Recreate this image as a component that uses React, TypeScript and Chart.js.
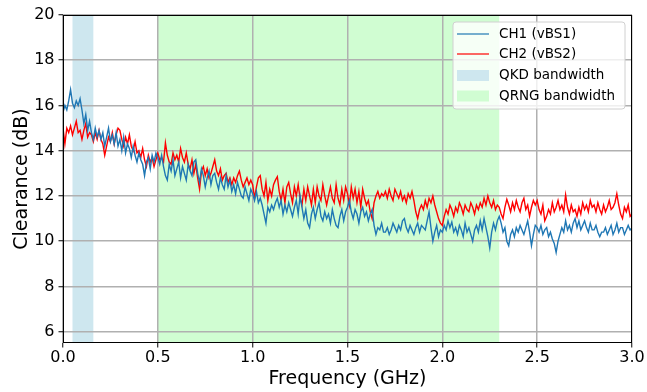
import React, { useEffect, useRef } from "react";
import { Chart, registerables } from "chart.js";

Chart.register(...registerables);

// Frequency sampling grid (GHz): 0.00 .. 3.00 in 0.01 steps
const freqGHz: number[] = Array.from({ length: 301 }, (_, i) => i / 100);

// CH1 (vBS1) clearance in dB, one row per 0.1 GHz
const ch1: number[] = [
  15.7, 16.0, 15.8, 16.2, 16.7, 16.1, 15.9, 16.2, 16.0, 16.3,
  15.8, 15.2, 15.6, 14.9, 15.3, 14.8, 14.5, 15.0, 14.6, 14.9,
  14.5, 14.8, 14.2, 14.6, 15.0, 14.4, 14.7, 14.3, 14.8, 14.2,
  14.5, 14.0, 14.6, 13.9, 14.3, 14.1, 13.7, 14.2, 13.8, 13.5,
  13.9, 13.6, 13.4, 12.9, 13.5, 13.7, 13.2, 13.8, 13.5, 13.9,
  13.7, 13.4, 13.8, 13.3, 12.9, 12.7, 13.4, 13.1, 13.6, 12.9,
  13.2, 13.5, 12.8, 13.3, 13.0, 12.7, 13.4, 13.1, 12.9, 13.5,
  13.6, 13.0, 12.6, 13.2, 12.9, 12.4, 12.8, 13.1, 12.5, 12.9,
  13.0, 12.6, 12.3, 12.8, 12.5, 12.3, 12.9, 12.4, 12.7, 12.2,
  12.5, 12.1, 12.6, 12.3, 12.0, 11.9, 12.4, 12.1, 11.8, 12.3,
  12.1, 11.8, 12.2, 11.7, 11.9, 11.6, 11.2, 10.8, 11.5, 11.3,
  11.6, 11.4, 11.7, 11.9, 11.5, 11.8, 11.2, 11.6, 11.3, 11.7,
  11.4, 11.1, 11.5, 11.8, 11.2, 12.0, 11.5, 11.0, 11.4, 10.8,
  10.6, 11.2, 11.5, 11.0, 11.4, 11.7, 11.1, 10.9, 11.3, 11.0,
  11.2, 10.8, 11.4, 11.0, 10.7, 10.6, 11.1, 11.4, 10.9, 11.3,
  11.5, 11.8, 11.3, 11.0, 11.4, 11.2, 10.8, 11.3, 11.5, 11.1,
  11.3, 10.9, 11.2, 11.4, 10.7, 10.3, 10.6, 10.5, 10.8, 10.4,
  10.4, 10.6, 10.3, 10.5, 10.8, 10.6, 10.4, 10.7, 10.5, 10.9,
  11.0, 10.6, 10.4, 10.7, 10.5, 10.3, 10.6, 10.8, 10.4, 10.7,
  10.6, 10.5, 10.9, 11.3, 10.6, 10.0, 10.4, 10.7, 10.2, 10.5,
  10.4, 10.7, 10.5, 10.9, 10.6, 10.85, 10.4, 10.6, 10.3, 10.7,
  10.5, 10.2, 10.8, 10.4, 10.6, 10.3, 10.0, 10.5, 10.7, 10.4,
  10.9, 10.5, 11.0, 10.6, 10.2, 9.7, 10.4, 10.8, 10.5, 10.9,
  11.1, 10.8, 10.4, 10.6, 10.0, 9.8, 10.3, 10.5, 10.2, 10.6,
  10.4, 10.7, 10.5, 10.3, 10.6, 10.9, 10.4, 9.8, 10.3, 10.7,
  10.6, 10.4, 10.7, 10.3, 10.5, 10.6, 10.2, 10.4, 10.1, 9.9,
  9.5, 10.0, 10.3, 10.6, 10.4, 10.9, 10.5, 10.7, 10.4, 10.8,
  11.0, 10.6, 10.9, 10.5, 10.7, 10.9, 10.6, 10.4, 10.8, 10.5,
  10.5, 10.7, 10.4, 10.2, 10.4, 10.4, 10.6, 10.3, 10.5, 10.7,
  10.3, 10.5, 10.8, 10.4, 10.6, 10.6, 10.3, 10.5, 10.7, 10.5,
  10.6,
];

// CH2 (vBS2) clearance in dB
const ch2: number[] = [
  15.0, 14.3, 15.0, 14.8, 15.1, 14.7, 15.0, 15.3, 14.8, 14.9,
  14.5, 14.9, 15.2, 14.6, 14.8, 14.7, 14.4, 14.8, 14.5, 14.9,
  14.5, 14.3, 13.8, 14.2, 14.6, 14.4, 14.8, 14.3, 14.7, 15.0,
  14.9, 14.5, 14.2, 14.6, 14.3, 14.7, 14.2, 14.0, 14.4, 13.9,
  14.0, 13.7, 14.1, 13.6, 13.3, 13.8, 13.5, 13.7, 13.3, 13.6,
  13.9, 13.6, 13.7, 13.5, 14.35, 13.8, 13.5, 13.4, 13.9, 13.6,
  13.8, 13.5, 14.1, 13.7, 13.5, 13.9, 13.4, 13.2, 13.6, 13.0,
  13.4, 12.8, 12.3, 13.1, 13.3, 12.9, 13.2, 12.8, 13.0, 13.3,
  13.6, 13.1, 12.9, 13.2, 12.7, 12.9, 13.0, 12.6, 12.8, 12.5,
  12.8, 12.6, 12.9, 13.1, 12.7, 12.4, 12.6, 12.8, 12.5, 12.7,
  12.5, 11.9, 12.4, 12.8, 12.9, 12.3, 12.0, 12.6, 11.8, 12.3,
  12.0, 12.5, 12.7, 12.85, 12.2, 11.8, 12.3, 11.7, 12.4, 12.6,
  12.1, 11.7, 12.4, 12.0, 12.5, 11.9, 11.6, 12.3, 11.8, 12.4,
  12.0, 11.6, 12.3, 11.7, 12.4, 12.0, 11.8, 12.5, 12.0, 11.6,
  12.0, 12.4, 11.9, 11.7, 12.5, 11.9, 11.6, 12.3, 11.8, 12.4,
  12.1, 11.6, 12.4, 11.9, 12.3, 11.7, 12.2, 11.5, 12.3, 11.9,
  11.6, 11.8, 11.3, 11.0, 11.7, 12.0, 12.2, 11.9, 12.1, 12.0,
  12.2, 11.9, 12.3, 12.0, 11.8, 12.3, 12.1, 11.9, 12.2, 11.8,
  12.0, 11.7, 12.1, 11.9, 12.2, 11.8, 11.3, 11.0, 11.4, 11.6,
  11.4, 11.8, 11.5, 11.9, 11.7, 12.0, 11.6, 11.3, 11.0, 10.8,
  10.7, 11.1, 11.4, 11.2, 11.6, 11.4, 11.1, 11.5, 11.3, 11.7,
  11.5, 11.2, 11.6, 11.4, 11.3, 11.7, 11.5, 11.2, 11.6, 11.4,
  11.7, 11.5, 11.9, 11.6, 12.0, 11.7, 11.5, 11.8, 11.4, 11.6,
  11.5, 11.2, 11.0, 11.5, 11.85, 11.6, 11.3, 11.7, 11.4, 11.8,
  11.5, 11.3, 11.7, 11.9, 11.4, 11.6, 11.1, 11.5, 11.8, 11.6,
  11.8, 11.4, 11.2, 11.6, 10.9, 11.1, 11.4, 11.2, 11.7, 11.3,
  11.5, 11.8, 11.4, 11.6, 11.3, 12.05, 11.5, 11.2, 11.6, 11.3,
  11.4, 11.1, 11.5, 11.2, 11.7, 11.4, 11.6, 11.3, 11.8, 11.5,
  11.6, 11.3, 11.7, 11.4, 11.2, 11.6, 11.3, 11.5, 11.8, 11.4,
  11.5, 11.7, 12.1, 11.6, 11.2, 11.0, 11.5, 11.3, 11.6, 11.1,
  11.2,
];

const qkdBand: [number, number] = [0.05, 0.16];
const qrngBand: [number, number] = [0.5, 2.3];
const yTicks: number[] = [6, 8, 10, 12, 14, 16, 18, 20];
const seriesLabels = ["CH1 (vBS1)", "CH2 (vBS2)"];
const bandLabels = ["QKD bandwidth", "QRNG bandwidth"];

const BLUE = "#1f77b4";
const RED = "#ff0000";
const QKD_COLOR = "rgb(206,231,239)";
const QRNG_COLOR = "rgb(208,253,210)";
const FONT = "'DejaVu Sans', sans-serif";

export default function App() {
  const ref = useRef<HTMLCanvasElement | null>(null);

  useEffect(() => {
    const canvas = ref.current;
    if (!canvas) return;

    const bandsPlugin = {
      id: "bands",
      beforeDraw(chart: any) {
        const { ctx, chartArea, scales } = chart;
        const x = scales.x;
        ctx.save();
        const drawBand = (b: [number, number], color: string) => {
          const x1 = x.getPixelForValue(b[0]);
          const x2 = x.getPixelForValue(b[1]);
          ctx.fillStyle = color;
          ctx.fillRect(x1, chartArea.top, x2 - x1, chartArea.bottom - chartArea.top);
        };
        drawBand(qkdBand, QKD_COLOR);
        drawBand(qrngBand, QRNG_COLOR);
        ctx.restore();
      },
      afterDatasetsDraw(chart: any) {
        const { ctx, chartArea } = chart;
        ctx.save();
        ctx.strokeStyle = "#000";
        ctx.lineWidth = 1;
        ctx.strokeRect(
          Math.round(chartArea.left) + 0.5,
          Math.round(chartArea.top) + 0.5,
          Math.round(chartArea.right - chartArea.left) - 1,
          Math.round(chartArea.bottom - chartArea.top) - 1
        );
        ctx.restore();
      },
      afterDraw(chart: any) {
        const { ctx } = chart;
        ctx.save();
        const bx = 453, by = 22, bw = 172, bh = 87, r = 3;
        ctx.beginPath();
        ctx.moveTo(bx + r, by);
        ctx.lineTo(bx + bw - r, by);
        ctx.quadraticCurveTo(bx + bw, by, bx + bw, by + r);
        ctx.lineTo(bx + bw, by + bh - r);
        ctx.quadraticCurveTo(bx + bw, by + bh, bx + bw - r, by + bh);
        ctx.lineTo(bx + r, by + bh);
        ctx.quadraticCurveTo(bx, by + bh, bx, by + bh - r);
        ctx.lineTo(bx, by + r);
        ctx.quadraticCurveTo(bx, by, bx + r, by);
        ctx.closePath();
        ctx.fillStyle = "rgba(255,255,255,0.8)";
        ctx.fill();
        ctx.strokeStyle = "#d0d0d0";
        ctx.lineWidth = 1;
        ctx.stroke();

        const hx1 = 457, hx2 = 489, tx = 499;
        const rows = [34, 54, 75.5, 96];
        ctx.font = `13.5px ${FONT}`;
        ctx.textBaseline = "middle";
        ctx.textAlign = "left";
        [BLUE, RED].forEach((c, i) => {
          ctx.strokeStyle = c;
          ctx.lineWidth = 1.2;
          ctx.beginPath();
          ctx.moveTo(hx1, rows[i]);
          ctx.lineTo(hx2, rows[i]);
          ctx.stroke();
          ctx.fillStyle = "#000";
          ctx.fillText(seriesLabels[i], tx, rows[i]);
        });
        [QKD_COLOR, QRNG_COLOR].forEach((c, i) => {
          const y = rows[i + 2];
          ctx.fillStyle = c;
          ctx.fillRect(hx1, y - 5.5, hx2 - hx1, 11);
          ctx.fillStyle = "#000";
          ctx.fillText(bandLabels[i], tx, y);
        });
        ctx.restore();
      },
    };

    const chart = new Chart(canvas, {
      type: "line",
      data: {
        datasets: [
          {
            label: seriesLabels[0],
            data: freqGHz.map((f, i) => ({ x: f, y: ch1[i] })),
            borderColor: BLUE,
            borderWidth: 1.4,
            pointRadius: 0,
            tension: 0,
            fill: false,
          },
          {
            label: seriesLabels[1],
            data: freqGHz.map((f, i) => ({ x: f, y: ch2[i] })),
            borderColor: RED,
            borderWidth: 1.4,
            pointRadius: 0,
            tension: 0,
            fill: false,
          },
        ],
      },
      options: {
        animation: false,
        responsive: false,
        maintainAspectRatio: false,
        events: [],
        layout: { padding: { left: 0, top: 15, right: 15, bottom: 0 } },
        plugins: {
          legend: { display: false },
          tooltip: { enabled: false },
        },
        scales: {
          x: {
            type: "linear",
            min: 0,
            max: 3,
            afterFit: (s: any) => {
              s.height = 49;
            },
            ticks: {
              stepSize: 0.5,
              color: "#000",
              padding: 1,
              maxRotation: 0,
              font: { family: FONT, size: 16 },
              callback: (v: any) => Number(v).toFixed(1),
            },
            grid: {
              color: "#b0b0b0",
              lineWidth: 1.5,
              tickColor: "#000",
              tickLength: 4.5,
              tickWidth: 1,
            },
            border: { display: false },
            title: {
              display: true,
              text: "Frequency (GHz)",
              color: "#000",
              font: { family: FONT, size: 19 },
              padding: { top: 0, bottom: 2 },
            },
          },
          y: {
            type: "linear",
            min: 5.5,
            max: 20,
            afterFit: (s: any) => {
              s.width = 63;
            },
            afterBuildTicks: (s: any) => {
              s.ticks = yTicks.map((v) => ({ value: v }));
            },
            ticks: {
              color: "#000",
              padding: 4,
              font: { family: FONT, size: 16 },
              callback: (v: any) => String(v),
            },
            grid: {
              color: "#b0b0b0",
              lineWidth: 1.5,
              tickColor: "#000",
              tickLength: 4.5,
              tickWidth: 1,
            },
            border: { display: false },
            title: {
              display: true,
              text: "Clearance (dB)",
              color: "#000",
              font: { family: FONT, size: 19 },
              padding: { top: 11, bottom: 0 },
            },
          },
        },
      },
      plugins: [bandsPlugin],
    } as any);

    return () => chart.destroy();
  }, []);

  return (
    <div style={{ position: "fixed", left: 0, top: 0, width: 647, height: 392, background: "#fff" }}>
      <canvas ref={ref} width={647} height={392} style={{ display: "block", width: 647, height: 392 }} />
    </div>
  );
}
